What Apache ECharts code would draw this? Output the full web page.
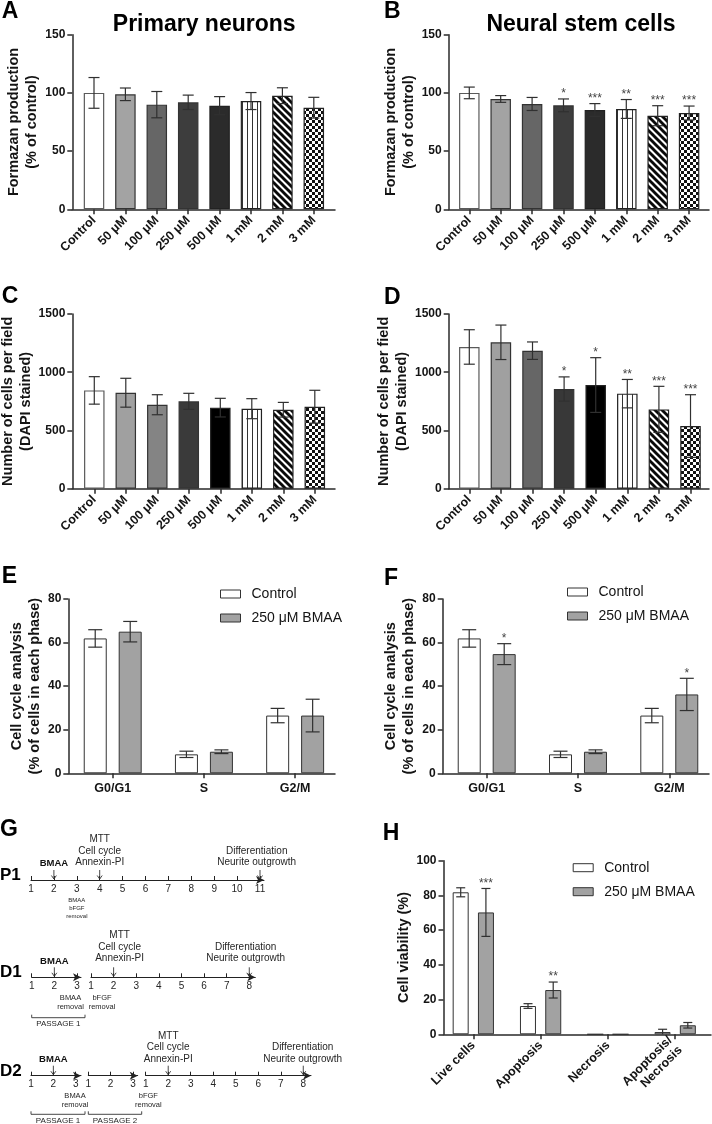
<!DOCTYPE html>
<html>
<head>
<meta charset="utf-8">
<script src="https://cdn.jsdelivr.net/npm/echarts@6/dist/echarts.min.js"></script>
<style>
html,body{margin:0;padding:0;background:#fff;}
#chart{width:712px;height:1124px;}
</style>
</head>
<body>
<div id="chart"></div>
<script>
// ================= DATA =================
const doseLabels = ['Control', '50 μM', '100 μM', '250 μM', '500 μM', '1 mM', '2 mM', '3 mM'];

// A: MTT, primary neurons (% of control)
const mttNeuronMean = [100, 98.8, 89.9, 91.9, 89.0, 93.0, 97.6, 87.3];
const mttNeuronErr  = [13.2, 5.4, 11.3, 6.2, 7.8, 7.3, 6.8, 8.9];
// B: MTT, neural stem cells
const mttNscMean = [100, 94.8, 90.5, 89.3, 85.3, 86.2, 80.4, 82.7];
const mttNscErr  = [5.0, 2.9, 5.6, 5.5, 5.5, 8.1, 8.6, 6.0];
const mttNscSig  = ['', '', '', '*', '***', '**', '***', '***'];
// C: DAPI counts, primary neurons
const dapiNeuronMean = [844, 824, 721, 750, 696, 687, 678, 704];
const dapiNeuronErr  = [118, 124, 86, 69, 80, 86, 63, 141];
// D: DAPI counts, neural stem cells
const dapiNscMean = [1217, 1257, 1185, 856, 890, 816, 681, 538];
const dapiNscErr  = [148, 148, 75, 104, 235, 122, 198, 269];
const dapiNscSig  = ['', '', '', '*', '*', '**', '***', '***'];

// E/F: cell cycle
const phaseLabels = ['G0/G1', 'S', 'G2/M'];
const groupNames = ['Control', '250 μM BMAA'];
const cycleCtrlMean = [61.9, 8.7, 26.5];
const cycleCtrlErr  = [4.0, 1.45, 3.3];
const cycleNeuronBmaaMean = [65.0, 9.9, 26.5];
const cycleNeuronBmaaErr  = [4.7, 0.85, 7.5];
const cycleNscBmaaMean = [54.7, 9.9, 36.2];
const cycleNscBmaaErr  = [4.8, 0.85, 7.4];
const cycleNscBmaaSig  = ['*', '', '*'];

// H: Annexin-PI viability
const viabilityLabels = ['Live cells', 'Apoptosis', 'Necrosis', 'Apoptosis/\nNecrosis'];
const viabilityCtrlMean = [81.8, 16.3, 0, 1.3];
const viabilityCtrlErr  = [2.6, 1.35, 0, 1.6];
const viabilityBmaaMean = [70.2, 25.5, 0, 5.2];
const viabilityBmaaErr  = [13.8, 4.6, 0, 1.6];
const viabilityBmaaSig  = ['***', '**', '', ''];

// y axes: [min, max, interval]
const mttAxis = [0, 150, 50];
const dapiAxis = [0, 1500, 500];
const cycleAxis = [0, 80, 20];
const viabilityAxis = [0, 100, 20];

// G: timelines (day tick labels per segment)
const timelineRows = ['P1', 'D1', 'D2'];
const p1Days = [[1, 2, 3, 4, 5, 6, 7, 8, 9, 10, 11]];
const d1Days = [[1, 2, 3], [1, 2, 3, 4, 5, 6, 7, 8]];
const d2Days = [[1, 2, 3], [1, 2, 3], [1, 2, 3, 4, 5, 6, 7, 8]];
const p1Notes = [[
  {day: 2, kind: 'treat', text: 'BMAA'},
  {day: 4, kind: 'assay', text: 'MTT\nCell cycle\nAnnexin-PI'},
  {day: 11, kind: 'assay', text: 'Differentiation\nNeurite outgrowth'},
  {day: 3, kind: 'event', text: 'BMAA\nbFGF\nremoval'}
]];
const d1Notes = [[
  {day: 2, kind: 'treat', text: 'BMAA'},
  {day: 3, kind: 'event', text: 'BMAA\nremoval'},
  {day: 1, kind: 'passage', text: 'PASSAGE 1'}
], [
  {day: 2, kind: 'assay', text: 'MTT\nCell cycle\nAnnexin-PI'},
  {day: 8, kind: 'assay', text: 'Differentiation\nNeurite outgrowth'},
  {day: 1, kind: 'event', text: 'bFGF\nremoval'}
]];
const d2Notes = [[
  {day: 2, kind: 'treat', text: 'BMAA'},
  {day: 3, kind: 'event', text: 'BMAA\nremoval'},
  {day: 1, kind: 'passage', text: 'PASSAGE 1'}
], [
  {day: 1, kind: 'passage', text: 'PASSAGE 2'}
], [
  {day: 2, kind: 'assay', text: 'MTT\nCell cycle\nAnnexin-PI'},
  {day: 8, kind: 'assay', text: 'Differentiation\nNeurite outgrowth'},
  {day: 1, kind: 'event', text: 'bFGF\nremoval'}
]];

// ================= STYLE / LAYOUT =================
const FONT = '"Liberation Sans", Arial, Helvetica, sans-serif';
const INK = '#141414';
const AXIS = '#2a2a2a';

function pattern(kind) {
  const c = document.createElement('canvas');
  const g = c.getContext('2d');
  if (kind === 'vstripe') {
    c.width = 5; c.height = 5;
    g.fillStyle = '#fff'; g.fillRect(0, 0, 5, 5);
    g.fillStyle = '#333'; g.fillRect(2, 0, 1, 5);
  } else if (kind === 'diag') {
    c.width = 7; c.height = 7;
    g.fillStyle = '#fff'; g.fillRect(0, 0, 7, 7);
    g.strokeStyle = '#0a0a0a'; g.lineWidth = 2.9;
    [-7, 0, 7].forEach(k => { g.beginPath(); g.moveTo(k - 2, -2); g.lineTo(k + 9, 9); g.stroke(); });
  } else {
    c.width = 6; c.height = 6;
    g.fillStyle = '#fff'; g.fillRect(0, 0, 6, 6);
    g.fillStyle = '#111'; g.fillRect(0, 0, 3, 3); g.fillRect(3, 3, 3, 3);
  }
  return {image: c, repeat: 'repeat'};
}
const VST = pattern('vstripe'), DIAG = pattern('diag'), CHK = pattern('checker');
const fillsAB = ['#ffffff', '#a3a3a3', '#666666', '#3d3d3d', '#2b2b2b', VST, DIAG, CHK];
const fillsC  = ['#ffffff', '#a0a0a0', '#848484', '#3a3a3a', '#000000', VST, DIAG, CHK];
const fillsD  = ['#ffffff', '#a0a0a0', '#666666', '#383838', '#000000', VST, DIAG, CHK];
const borderDose = ['#5a5a5a', '#333', '#333', '#333', '#222', '#222', '#222', '#222'];

const LAYOUT = {
  A: {grid: {left: 72.3, top: 34.7, width: 262.7, height: 174.6}, x: [-0.691, 7.675], nameGap: 30, rotate: 45, margin: 9},
  B: {grid: {left: 448.7, top: 34.7, width: 260.3, height: 174.6}, x: [-0.656, 7.634], nameGap: 29.5, rotate: 45, margin: 9},
  C: {grid: {left: 72.3, top: 314, width: 262.7, height: 174.7}, x: [-0.698, 7.641], nameGap: 30.5, rotate: 45, margin: 9},
  D: {grid: {left: 448.7, top: 314, width: 260.3, height: 174.7}, x: [-0.652, 7.585], nameGap: 30.5, rotate: 45, margin: 9},
  E: {grid: {left: 68.3, top: 599, width: 266.7, height: 174.3}, x: [-0.487, 2.437], nameGap: 19.7, rotate: 0, margin: 8},
  F: {grid: {left: 442.7, top: 599, width: 266.3, height: 174.3}, x: [-0.482, 2.435], nameGap: 18.7, rotate: 0, margin: 8},
  H: {grid: {left: 443.5, top: 860.7, width: 267.5, height: 173.6}, x: [-0.443, 3.532], nameGap: 24, rotate: 45, margin: 9}
};

const option = {
  animation: false,
  backgroundColor: '#ffffff',
  textStyle: {fontFamily: FONT},
  grid: [], xAxis: [], yAxis: [], series: [], legend: [], graphic: []
};

function errSeries(k, mean, err, sig, offsetPx, capHalf) {
  return {
    type: 'custom', xAxisIndex: k, yAxisIndex: k, z: 5, clip: false, silent: true,
    data: mean.map((v, i) => [i, Math.max(0, v - err[i]), v + err[i], err[i]]),
    renderItem: function (params, api) {
      const i = params.dataIndex;
      const ch = [];
      if (api.value(3) > 0) {
        const x = api.value(0);
        const pLo = api.coord([x, api.value(1)]);
        const pHi = api.coord([x, api.value(2)]);
        const cx = pLo[0] + offsetPx;
        const st = {stroke: '#303030', lineWidth: 1.2};
        ch.push({type: 'line', shape: {x1: cx, y1: pLo[1], x2: cx, y2: pHi[1]}, style: st});
        ch.push({type: 'line', shape: {x1: cx - capHalf, y1: pHi[1], x2: cx + capHalf, y2: pHi[1]}, style: st});
        if (mean[i] - err[i] > 0) ch.push({type: 'line', shape: {x1: cx - capHalf, y1: pLo[1], x2: cx + capHalf, y2: pLo[1]}, style: st});
        if (sig && sig[i]) {
          ch.push({type: 'text', x: cx, y: pHi[1] - 5, style: {text: sig[i], fill: '#444', font: '12px ' + FONT,
            align: 'center', verticalAlign: 'middle', textAlign: 'center', textVerticalAlign: 'middle'}});
        }
      }
      return {type: 'group', children: ch};
    }
  };
}

function addPanel(id, cats, yRange, yName, seriesList, opts) {
  const L = LAYOUT[id];
  const k = option.grid.length;
  option.grid.push(Object.assign({containLabel: false, outerBoundsMode: 'none'}, L.grid));
  const ticks = cats.map((_, i) => i);
  option.xAxis.push({
    type: 'value', gridIndex: k, position: 'bottom', min: L.x[0], max: L.x[1],
    splitLine: {show: false},
    axisLine: {show: true, onZero: false, lineStyle: {color: AXIS, width: 1.5}},
    axisTick: {show: true, customValues: ticks, length: 5, lineStyle: {color: AXIS, width: 1.5}},
    axisLabel: {show: true, customValues: ticks, formatter: v => cats[Math.round(v)], rotate: L.rotate, margin: L.margin,
      fontSize: 12.5, fontWeight: 'bold', color: INK, fontFamily: FONT, lineHeight: 14}
  });
  option.yAxis.push({
    type: 'value', gridIndex: k, position: 'left', min: yRange[0], max: yRange[1], interval: yRange[2],
    name: yName, nameLocation: 'middle', nameGap: L.nameGap,
    nameTextStyle: {fontSize: 14.5, fontWeight: 'bold', color: INK, fontFamily: FONT, lineHeight: 18},
    splitLine: {show: false},
    axisLine: {show: true, onZero: false, lineStyle: {color: AXIS, width: 1.5}},
    axisTick: {show: true, length: 5, lineStyle: {color: AXIS, width: 1.5}},
    axisLabel: {fontSize: 12, fontWeight: 'bold', color: INK, fontFamily: FONT, margin: 7, formatter: v => String(v)}
  });
  seriesList.forEach(s => {
    option.series.push({
      type: 'bar', name: s.name, xAxisIndex: k, yAxisIndex: k, barWidth: opts.barWidth, barGap: opts.barGap || '30%',
      itemStyle: {color: s.color || '#fff', borderColor: '#333', borderWidth: 1},
      data: s.mean.map((v, i) => s.fills
        ? {value: [i, v], itemStyle: {color: s.fills[i], borderColor: borderDose[i], borderWidth: 1.2}}
        : {value: [i, v]})
    });
  });
  seriesList.forEach(s => option.series.push(errSeries(k, s.mean, s.err, s.sig, s.offset || 0, opts.cap)));
}

addPanel('A', doseLabels, mttAxis, 'Formazan production\n(% of control)',
  [{name: 'mttNeuron', mean: mttNeuronMean, err: mttNeuronErr, fills: fillsAB}], {barWidth: 20.5, cap: 5.5});
addPanel('B', doseLabels, mttAxis, 'Formazan production\n(% of control)',
  [{name: 'mttNsc', mean: mttNscMean, err: mttNscErr, sig: mttNscSig, fills: fillsAB}], {barWidth: 20.5, cap: 5.5});
addPanel('C', doseLabels, dapiAxis, 'Number of cells per field\n(DAPI stained)',
  [{name: 'dapiNeuron', mean: dapiNeuronMean, err: dapiNeuronErr, fills: fillsC}], {barWidth: 20.5, cap: 5.5});
addPanel('D', doseLabels, dapiAxis, 'Number of cells per field\n(DAPI stained)',
  [{name: 'dapiNsc', mean: dapiNscMean, err: dapiNscErr, sig: dapiNscSig, fills: fillsD}], {barWidth: 20.5, cap: 5.5});
addPanel('E', phaseLabels, cycleAxis, 'Cell cycle analysis\n(% of cells in each phase)',
  [{name: groupNames[0], mean: cycleCtrlMean, err: cycleCtrlErr, color: '#ffffff', offset: -17.5},
   {name: groupNames[1], mean: cycleNeuronBmaaMean, err: cycleNeuronBmaaErr, color: '#a2a2a2', offset: 17.5}],
  {barWidth: 23, barGap: '52%', cap: 7});
addPanel('F', phaseLabels, cycleAxis, 'Cell cycle analysis\n(% of cells in each phase)',
  [{name: groupNames[0], mean: cycleCtrlMean, err: cycleCtrlErr, color: '#ffffff', offset: -17.5},
   {name: groupNames[1], mean: cycleNscBmaaMean, err: cycleNscBmaaErr, sig: cycleNscBmaaSig, color: '#a2a2a2', offset: 17.5}],
  {barWidth: 23, barGap: '52%', cap: 7});
addPanel('H', viabilityLabels, viabilityAxis, 'Cell viability (%)',
  [{name: groupNames[0], mean: viabilityCtrlMean, err: viabilityCtrlErr, color: '#ffffff', offset: -12.6},
   {name: groupNames[1], mean: viabilityBmaaMean, err: viabilityBmaaErr, sig: viabilityBmaaSig, color: '#a2a2a2', offset: 12.6}],
  {barWidth: 16, barGap: '58%', cap: 4.5});

// legends for E, F, H
[[220, 586], [567, 584], [572.7, 859.7]].forEach(pos => {
  option.legend.push({
    data: groupNames, orient: 'vertical', left: pos[0], top: pos[1], padding: 0,
    itemWidth: 20, itemHeight: 8, itemGap: 8, icon: 'rect', selectedMode: false,
    itemStyle: {borderColor: '#333', borderWidth: 1},
    textStyle: {fontSize: 14, color: INK, fontFamily: FONT, lineHeight: 16, padding: [0, 0, 0, 6]}
  });
});

// ---------- G: timelines built from axes ----------
const TL = {
  P1: {lineY: 880, assayDy: -12, evFont: 6, evLh: 8, passY: 40,
       segs: [{left: 31, step: 22.9, tip: 268}], dx: [[0, 0, -3.3, 0]]},
  D1: {lineY: 977.3, assayDy: -13.3, evFont: 7.5, evLh: 9, passY: 40.4,
       segs: [{left: 31.7, step: 22.65, tip: 85}, {left: 91, step: 22.61, tip: 259.3}], dx: [[0, -6.5, 0], [6, -3.6, 11]]},
  D2: {lineY: 1075.7, assayDy: -11.2, evFont: 7.5, evLh: 9, passY: 38.6,
       segs: [{left: 31, step: 22.35, tip: 85}, {left: 88.3, step: 22.35, tip: 141.7}, {left: 145.7, step: 22.51, tip: 315}],
       dx: [[0, -0.7, 0], [0], [0, -0.6, 2.6]]}
};
const ARROW_HALF = 4;
const rowDays = {P1: p1Days, D1: d1Days, D2: d2Days};
const rowNotes = {P1: p1Notes, D1: d1Notes, D2: d2Notes};
const TXT = '#262626';

timelineRows.forEach(row => {
  const R = TL[row];
  R.segs.forEach((sg, si) => {
    const k = option.grid.length;
    const endPx = sg.tip - ARROW_HALF;
    const maxVal = 1 + (endPx - sg.left) / sg.step;
    option.grid.push({left: sg.left, top: R.lineY - 20, width: endPx - sg.left, height: 20, containLabel: false, outerBoundsMode: 'none'});
    const days = rowDays[row][si];
    option.xAxis.push({
      type: 'value', gridIndex: k, position: 'bottom', min: 1, max: maxVal,
      splitLine: {show: false},
      axisLine: {show: true, onZero: false, symbol: ['none', 'arrow'], symbolSize: [6, 8], lineStyle: {color: '#222', width: 1}},
      axisTick: {show: true, inside: true, length: 4, customValues: days, lineStyle: {color: '#222', width: 1}},
      axisLabel: {show: true, customValues: days, formatter: v => String(Math.round(v)), fontSize: 10, color: TXT, margin: 4, fontFamily: FONT}
    });
    option.yAxis.push({type: 'value', gridIndex: k, min: 0, max: 1, show: false});
    const notes = rowNotes[row][si];
    const dxs = R.dx[si];
    option.series.push({
      type: 'custom', xAxisIndex: k, yAxisIndex: k, clip: false, silent: true, z: 6,
      data: notes.map(n => [n.day, 0]),
      renderItem: function (params, api) {
        const n = notes[params.dataIndex];
        const dx = dxs[params.dataIndex] || 0;
        const p = api.coord([api.value(0), 0]);
        const x = p[0], ly = p[1];
        const ch = [];
        const st = {stroke: '#333', lineWidth: 0.9, fill: null};
        const arrow = () => {
          ch.push({type: 'line', shape: {x1: x, y1: ly - 10, x2: x, y2: ly - 1}, style: st});
          ch.push({type: 'polyline', shape: {points: [[x - 2.5, ly - 4.5], [x, ly - 1], [x + 2.5, ly - 4.5]]}, style: st});
        };
        if (n.kind === 'treat') {
          arrow();
          ch.push({type: 'text', x: x + dx, y: ly - 16.3, style: {text: n.text, fill: '#111', font: 'bold 9.5px ' + FONT,
            align: 'center', verticalAlign: 'middle', textAlign: 'center', textVerticalAlign: 'middle'}});
        } else if (n.kind === 'assay') {
          arrow();
          ch.push({type: 'text', x: x + dx, y: ly + R.assayDy, style: {text: n.text, fill: TXT, font: '10px ' + FONT, lineHeight: 11.5,
            align: 'center', verticalAlign: 'bottom', textAlign: 'center', textVerticalAlign: 'bottom'}});
        } else if (n.kind === 'event') {
          ch.push({type: 'text', x: x + dx, y: ly + 16, style: {text: n.text, fill: TXT, font: R.evFont + 'px ' + FONT, lineHeight: R.evLh,
            align: 'center', verticalAlign: 'top', textAlign: 'center', textVerticalAlign: 'top'}});
        } else if (n.kind === 'passage') {
          const pe = api.coord([maxVal, 0]);
          const x2 = pe[0] + ARROW_HALF;
          const by = ly + R.passY;
          ch.push({type: 'polyline', shape: {points: [[x, by - 3], [x, by], [x2, by], [x2, by - 3]]}, style: st});
          ch.push({type: 'text', x: (x + x2) / 2, y: by + 6, style: {text: n.text, fill: TXT, font: '8px ' + FONT,
            align: 'center', verticalAlign: 'middle', textAlign: 'center', textVerticalAlign: 'middle'}});
        }
        return {type: 'group', children: ch};
      }
    });
  });
});

// ---------- static texts: panel letters, titles, row labels ----------
const letterPos = {A: [1.7, 11.7], B: [384, 11.7], C: [1.7, 296.7], D: [384, 297.3], E: [1.7, 576.7], F: [384, 578.3], G: [0, 829.2], H: [382.7, 833.5]};
Object.keys(letterPos).forEach(l => {
  option.graphic.push({type: 'text', x: letterPos[l][0], y: letterPos[l][1],
    style: {text: l, fill: '#000', font: 'bold 23px ' + FONT, align: 'left', verticalAlign: 'middle', textAlign: 'left', textVerticalAlign: 'middle'}});
});
[['Primary neurons', 204.2, 25], ['Neural stem cells', 581, 25]].forEach(t => {
  option.graphic.push({type: 'text', x: t[1], y: t[2],
    style: {text: t[0], fill: '#000', font: 'bold 23px ' + FONT, align: 'center', verticalAlign: 'middle', textAlign: 'center', textVerticalAlign: 'middle'}});
});
const rowLabelY = {P1: 875.8, D1: 972.5, D2: 1071.2};
timelineRows.forEach(r => {
  option.graphic.push({type: 'text', x: 0, y: rowLabelY[r],
    style: {text: r, fill: '#000', font: 'bold 17px ' + FONT, align: 'left', verticalAlign: 'middle', textAlign: 'left', textVerticalAlign: 'middle'}});
});

const chart = echarts.init(document.getElementById('chart'), null, {renderer: 'canvas', width: 712, height: 1124});
chart.setOption(option);
</script>
</body>
</html>
